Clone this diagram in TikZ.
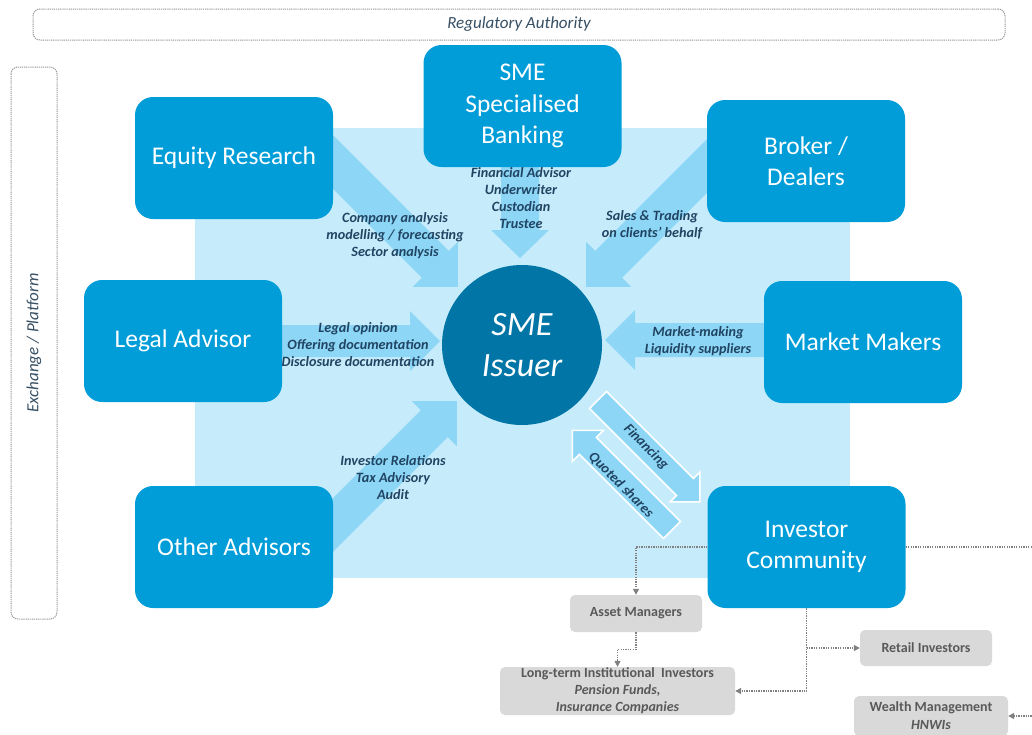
\documentclass[tikz,border=0pt]{standalone}
\usepackage{fontspec}
\setmainfont{Carlito}
\usetikzlibrary{arrows.meta}
\definecolor{boxblue}{RGB}{0,157,216}
\definecolor{issuerblue}{RGB}{0,117,166}
\definecolor{bglight}{RGB}{198,236,251}
\definecolor{arrowblue}{RGB}{141,214,246}
\definecolor{labelc}{RGB}{32,68,98}
\definecolor{greybox}{RGB}{217,217,217}
\definecolor{greytext}{RGB}{89,89,89}
\definecolor{lineg}{RGB}{128,128,128}
\definecolor{framec}{RGB}{150,150,150}
\definecolor{frametext}{RGB}{55,80,100}
\newcommand\barrow[8]{%
  \begin{scope}[shift={(#2,#3)},rotate=#4]
    \path[#1] (0,#6) -- ({#5-#8},#6) -- ({#5-#8},#7) -- (#5,0) -- ({#5-#8},-#7) -- ({#5-#8},-#6) -- (0,-#6) -- cycle;
  \end{scope}}
\tikzset{
  actor/.style={rounded corners=18pt, fill=boxblue, text=white, align=center,
    minimum width=198pt, minimum height=122pt, inner sep=0pt,
    font=\fontsize{25.5}{31.5}\selectfont},
  issuer/.style={circle, fill=issuerblue, text=white, align=center, minimum size=160pt,
    inner sep=0pt, font=\itshape\fontsize{34}{41}\selectfont},
  lab/.style={text=labelc, align=center, inner sep=0pt,
    font=\bfseries\itshape\fontsize{14.2}{17}\selectfont},
  gbox/.style={rounded corners=5pt, fill=greybox, text=greytext, align=center, inner sep=0pt,
    font=\bfseries\fontsize{14}{17}\selectfont},
  frame/.style={draw=framec, line width=1pt, dash pattern=on 1.2pt off 0.9pt,
    rounded corners=7pt, inner sep=0pt, text=frametext, font=\itshape\fontsize{17}{20}\selectfont},
  conn/.style={draw=lineg, line width=1.3pt, dash pattern=on 1.3pt off 1.1pt,
    -{Triangle[length=6pt,width=6pt]}},
  blk/.style={fill=arrowblue},
  blkw/.style={fill=arrowblue, draw=white, line width=1.5pt}
}
\begin{document}
\begin{tikzpicture}[x=1pt,y=-1pt]
\useasboundingbox (0,0) rectangle (1032,734);
\clip (0,0) rectangle (1032,734);
\fill[white] (0,0) rectangle (1032,734);
% background panel
\fill[bglight] (195,128) rectangle (850,578);
% block arrows
\barrow{blk}{302.4}{131.4}{-45}{220}{19}{32}{32}
\barrow{blk}{520}{150}{-90}{108}{19}{29}{28}
\barrow{blk}{741.6}{131.4}{-135}{220}{19}{32}{32}
\barrow{blk}{270}{341}{0}{170}{16}{30}{30}
\barrow{blk}{780}{340}{180}{175}{17}{30}{30}
\barrow{blk}{301.4}{556.6}{45}{220}{19}{32}{32}
\barrow{blkw}{598}{400}{-45}{144}{12}{21}{21}
\barrow{blkw}{672}{530}{135}{141}{12}{22}{22}
% actor boxes
\node[actor] (er) at (234,158) {Equity Research};
\node[actor] (bank) at (522.5,106) {SME\\Specialised\\Banking};
\node[actor] (broker) at (806,161) {Broker /\\Dealers};
\node[actor] (legal) at (183,341) {Legal Advisor};
\node[actor] (market) at (863,342) {Market Makers};
\node[actor] (other) at (234,547) {Other Advisors};
\node[actor] (ic) at (806.5,547) {Investor\\Community};
\node[issuer] (sme) at (522,345) {SME\\Issuer};
% labels
\node[lab] (lER) at (395,236) {Company analysis\\modelling / forecasting\\Sector analysis};
\node[lab] (lBank) at (521,198.5) {Financial Advisor\\Underwriter\\Custodian\\Trustee};
\node[lab] (lBroker) at (652,224.5) {Sales \& Trading\\on clients’ behalf};
\node[lab] (lLegal) at (358,345) {Legal opinion\\Offering documentation\\Disclosure documentation};
\node[lab] (lMarket) at (698,341.5) {Market-making\\Liquidity suppliers};
\node[lab] (lOther) at (393,478) {Investor Relations\\Tax Advisory\\Audit};
\node[lab, rotate=-45] (lFin) at (646,447) {Financing};
\node[lab, rotate=-45] (lQuo) at (621,485) {Quoted shares};
% frames
\node[frame, minimum width=972pt, minimum height=31pt] (reg) at (519,24.5) {Regulatory Authority};
\node[frame, rotate=90, minimum width=552pt, minimum height=46pt] (exch) at (34,343) {Exchange / Platform};
% investor boxes
\node[gbox, minimum width=132pt, minimum height=37pt] (am) at (636,613.5) {Asset Managers};
\node[gbox, minimum width=235pt, minimum height=48pt] (lt) at (617.5,691) {Long-term Institutional\ \ Investors\\\itshape Pension Funds,\\\itshape Insurance Companies};
\node[gbox, minimum width=132pt, minimum height=36pt] (retail) at (926,648) {Retail Investors};
\node[gbox, minimum width=154pt, minimum height=40pt, font=\bfseries\fontsize{14}{18}\selectfont] (wealth) at (931,716) {Wealth Management\\\itshape HNWIs};
% connectors
\draw[conn] (ic.west) -| (am.north);
\draw[conn] (am.south) -- ++(0,17) -| (lt.north);
\draw[conn] (ic.south) |- (lt.east);
\coordinate (branch) at (ic.south |- retail.west);
\draw[conn] (branch) -- (retail.west);
\coordinate (offR) at (1045,547);
\draw[conn] (ic.east) -- (offR) |- (wealth.east);
\end{tikzpicture}
\end{document}
